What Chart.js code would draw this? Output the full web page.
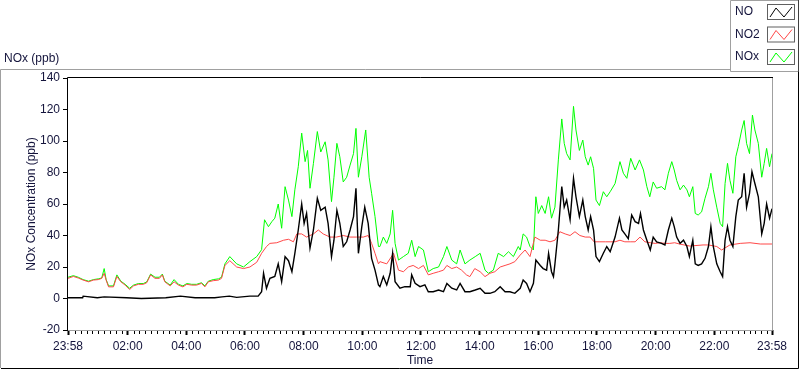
<!DOCTYPE html>
<html>
<head>
<meta charset="utf-8">
<script src="https://cdn.jsdelivr.net/npm/chart.js@4.4.1/dist/chart.umd.min.js"></script>
<style>
  html, body { margin: 0; padding: 0; background: #fff; }
  #chart { display: block; }
</style>
</head>
<body>
<canvas id="chart" width="800" height="369"></canvas>
<script>
// time axis is minutes after 23:58 of the previous day (0 .. 1440)
const xTickValues = [0, 122, 242, 362, 482, 602, 722, 842, 962, 1082, 1202, 1322, 1440];
const xTickLabels = ['23:58', '02:00', '04:00', '06:00', '08:00', '10:00', '12:00', '14:00', '16:00', '18:00', '20:00', '22:00', '23:58'];
const yTickValues = [-20, 0, 20, 40, 60, 80, 100, 120, 140];

const seriesNames = ['NO', 'NO2', 'NOx'];
const seriesColors = ['#000000', '#ff4848', '#00ff00'];

const noTimes = [0, 30, 31, 60, 74, 120, 150, 200, 230, 260, 300, 315, 330, 345, 372, 389, 396, 400, 406, 413, 423, 430, 437, 444, 451, 458, 464, 471, 478, 483, 488, 495, 502, 510, 517, 526, 532, 539, 544, 550, 556, 563, 570, 577, 584, 589, 594, 601, 607, 614, 621, 628, 635,
  638, 645, 652, 659, 664, 669, 679, 689, 700, 703, 710, 720, 730, 737, 747, 758, 768, 775, 785, 795, 802, 812, 822, 833, 843, 853, 863, 873, 884, 894, 904, 914, 925, 931, 938, 945, 952, 957,
  966, 972, 979, 983, 989, 993, 996, 1003, 1010, 1015, 1020, 1027, 1034, 1039, 1046, 1053, 1058, 1064, 1069, 1075, 1080, 1087, 1095, 1102, 1109, 1119, 1128, 1133, 1139, 1146, 1153, 1160, 1167, 1171, 1177, 1184, 1191,
  1197, 1204, 1214, 1221, 1228, 1235, 1240, 1245, 1252, 1259, 1266, 1271, 1278, 1283, 1289, 1296, 1303, 1310, 1315, 1320, 1327, 1334, 1339, 1344, 1349, 1354, 1360, 1366, 1371, 1378, 1383, 1388, 1394, 1399, 1405, 1412, 1419, 1424, 1429, 1435, 1440];
const noValues = [0.5, 0.5, 1.5, 0.5, 1, 0.5, 0, 0.5, 1.5, 0.5, 0.5, 1, 1.5, 0.7, 1.5, 1.5, 4.3, 16, 6.5, 12.8, 14, 22, 10.7, 26.6, 24, 17, 28.7, 43.5, 60, 47.7, 54, 32, 43.5, 63.6, 56, 58, 47.7, 26.6, 37, 56, 47.7, 33, 36, 43.5, 52, 70, 28.7, 45.6, 58, 47.7, 25.5, 18, 8.6,
  7.5, 14, 8.6, 16, 28.7, 10.7, 6.5, 7.5, 7.5, 15, 9.6, 7.5, 8.6, 4.3, 4.3, 5.4, 4.3, 9.6, 6.5, 5.4, 9.6, 4.3, 4.3, 5.4, 6.5, 3.3, 3.3, 4.3, 7.5, 4.3, 4.3, 3.3, 6.5, 11.7, 9.6, 4.3, 9.6, 24.4,
  21, 19, 18, 28.7, 17, 13.9, 22, 43.5, 71, 58, 62.5, 50, 76.3, 64.6, 52, 62.5, 52, 43.5, 52, 43.5, 26.6, 23.4, 28.7, 33, 29.7, 39, 51, 43.5, 41, 38, 53, 48.8, 47.7, 54, 43.5, 37, 30.8,
  39, 36, 35, 34, 43.5, 51, 45.6, 39, 35, 37, 33, 26.6, 37, 22, 21, 22, 25.5, 33, 45.6, 33, 22, 17, 13.9, 37, 45.6, 37, 33, 52, 62.5, 64.6, 79.5, 58, 66.8, 80.5, 73, 64.6, 41, 47.7, 60, 51, 57];

const no2Times = [0, 11, 21, 31, 42, 52, 62, 69, 74, 78, 83, 93, 100, 108, 117, 126, 134, 144, 154, 161, 169, 178, 187, 193, 198, 209, 217, 226, 235, 243, 253, 263, 273, 280, 287, 297, 308, 314, 321,
  331, 345, 359, 372, 386, 396, 406, 413, 427, 441, 451, 461, 468, 478, 488, 502, 512, 522, 536, 549, 563, 577, 590, 604, 614, 621, 628, 635,
  638, 652, 666, 676, 686, 696, 706, 717, 727, 737, 747, 758, 768, 775, 785, 795, 805, 815, 822, 832, 843, 853, 863, 873, 884, 894, 904, 914,
  925, 935, 945, 955, 966, 976, 986, 996, 1006, 1017, 1027, 1037, 1047, 1058, 1068, 1076, 1088, 1099, 1109, 1119, 1129, 1139, 1150, 1160, 1170, 1180, 1191, 1201, 1211, 1221,
  1231, 1241, 1252, 1272, 1299, 1310, 1327, 1337, 1354, 1375, 1395, 1416, 1440];
const no2Values = [12.8, 14, 13, 11.7, 10.6, 11.7, 12, 12.8, 16, 11.7, 7.4, 7.4, 14, 10.6, 8.5, 5.7, 8, 9, 9, 10, 15, 12.8, 12.8, 15, 10.6, 8, 10.6, 8.5, 7.4, 9, 8.5, 8.5, 9.6, 7.4, 10.6, 11.3, 11.7, 12.8, 21,
  24, 20, 19, 20, 23, 28.7, 33, 35, 35.4, 37, 37.6, 36, 41, 41, 39, 41, 43.5, 41, 39, 39, 40, 39, 39, 39, 40, 35, 28.7, 22,
  23.4, 22, 28.7, 18, 17, 20, 21, 19, 21, 15, 16, 17, 18, 21, 19, 20, 18, 15, 13.9, 19, 17, 13.9, 16, 17, 20, 21, 22, 23.4,
  27.6, 30.8, 26.6, 39, 37, 37, 36, 37, 42.4, 41, 40, 42.4, 40, 39, 39, 36, 36, 36, 36, 36, 37, 36, 36, 36, 39, 36, 35.4, 35, 35.4, 35,
  35, 35.4, 34.5, 33.3, 34, 34, 33, 30.8, 34, 35, 35.4, 34.6, 34.6];

const noxTimes = [0, 11, 21, 31, 42, 52, 62, 69, 74, 78, 83, 93, 100, 108, 117, 126, 134, 144, 154, 161, 169, 178, 187, 193, 198, 209, 217, 226, 235, 243, 253, 263, 273, 280, 287, 297, 308, 314, 321,
  331, 345, 359, 372, 386, 396, 402, 410, 417, 423, 430, 437, 444, 451, 458, 464, 471, 478, 485, 490, 495, 502, 510, 517, 526, 532, 539, 544, 550, 556, 563, 570, 577, 584, 589, 594, 601, 609, 616, 621, 628, 635,
  638, 645, 652, 659, 664, 669, 676, 686, 696, 703, 710, 717, 727, 737, 747, 758, 768, 775, 785, 795, 802, 812, 822, 833, 843, 853, 860, 870, 880, 891, 901, 911, 921,
  925, 931, 938, 945, 952, 957, 962, 969, 976, 983, 989, 996, 1003, 1010, 1015, 1020, 1027, 1034, 1039, 1046, 1053, 1058, 1064, 1069, 1075, 1080, 1087, 1095, 1102, 1109, 1119, 1129, 1136, 1143, 1151, 1160, 1169, 1177, 1184,
  1190, 1197, 1204, 1214, 1221, 1228, 1235, 1240, 1245, 1252, 1259, 1266, 1271, 1278, 1283, 1289, 1296, 1303, 1310, 1315, 1320, 1327, 1334, 1339, 1344, 1349, 1354, 1360, 1366, 1371, 1378, 1383, 1388, 1394, 1400, 1405, 1412, 1419, 1424, 1429, 1435, 1440];
const noxValues = [13.5, 14.5, 13.5, 12, 11, 12, 12.5, 13, 19, 12, 8, 8, 15, 11, 9, 6.5, 8.5, 9.5, 9.5, 10.5, 15.5, 13.5, 13.5, 15.5, 11, 8.5, 12, 9, 8, 9.5, 9, 9, 10, 8, 11, 12, 12.5, 13.5, 22,
  26.6, 22, 20, 23.4, 26.6, 31, 50, 45.6, 48.8, 51, 60, 44.6, 71, 62.5, 52, 69, 83.7, 105, 86.9, 94, 70, 85.8, 106, 93, 99.5, 88, 61.5, 77, 98.5, 90, 74, 77, 84.7, 92, 108, 77, 90, 107, 77, 66.8, 52, 33,
  33, 39, 35, 41, 56, 35, 24.4, 26.6, 28.7, 37, 26.6, 33, 30.8, 17, 19, 20, 26.6, 33, 24.4, 22, 30.8, 22, 24.4, 26.6, 28.7, 18, 16, 18, 28.7, 26.6, 29.7, 26.6, 33,
  30.8, 41, 39, 33, 30.8, 64.6, 54, 59, 54, 64.6, 51, 58, 88, 114, 98.5, 92, 88, 122, 107, 94, 100.6, 90, 84.7, 90, 82.6, 62.5, 59, 67.8, 64.6, 67.8, 73, 86.9, 79.5, 76.3, 89, 81.6, 88, 81.6, 71,
  64.6, 74, 70, 71, 69, 79.5, 86.9, 81.6, 75, 69, 72, 69, 64.6, 71, 54, 53, 55, 63.6, 71, 79.5, 69, 58, 47.7, 45.6, 73, 85.8, 75, 66.8, 90, 96.4, 107, 113, 98.5, 92, 116.5, 107, 98.5, 77, 85.8, 95.3, 83.7, 92];

const textColor = '#14143c';
const fontFamily = '"Liberation Sans", Arial, sans-serif';

function toPoints(times, values) {
    return times.map((t, i) => ({ x: t, y: values[i] }));
}

// frame, minor ticks, caption and legend box (LabVIEW style)
const decorPlugin = {
    id: 'decor',
    beforeDraw(chart) {
        const ctx = chart.ctx;
        ctx.save();
        ctx.fillStyle = '#ffffff';
        ctx.fillRect(0, 0, chart.width, chart.height);
        ctx.restore();
    },
    afterDraw(chart) {
        const ctx = chart.ctx;
        const area = chart.chartArea;
        const xScale = chart.scales.x;
        ctx.save();

        // plot frame: dark top/left, grey right/bottom
        ctx.lineWidth = 1;
        ctx.strokeStyle = '#a0a0a0';
        ctx.beginPath();
        ctx.moveTo(area.right + 0.5, area.top);
        ctx.lineTo(area.right + 0.5, area.bottom + 0.5);
        ctx.lineTo(area.left, area.bottom + 0.5);
        ctx.stroke();
        ctx.strokeStyle = '#000000';
        ctx.beginPath();
        ctx.moveTo(area.left - 0.5, area.bottom);
        ctx.lineTo(area.left - 0.5, area.top - 0.5);
        ctx.lineTo(area.right + 1, area.top - 0.5);
        ctx.stroke();

        // minor ticks every 12 minutes
        ctx.strokeStyle = '#000000';
        ctx.beginPath();
        for (let m = 12; m < 1440; m += 12) {
            if (m % 120 === 0) continue;
            const t = m + 2;
            if (t >= 1440) continue;
            const px = Math.round(xScale.getPixelForValue(t)) + 0.5;
            ctx.moveTo(px, area.bottom + 1);
            ctx.lineTo(px, area.bottom + 4);
        }
        ctx.stroke();

        // outer frame
        ctx.strokeStyle = '#a0a0a0';
        ctx.beginPath();
        ctx.moveTo(0.5, 368);
        ctx.lineTo(0.5, 69.5);
        ctx.lineTo(731, 69.5);
        ctx.stroke();
        ctx.strokeStyle = '#000000';
        ctx.beginPath();
        ctx.moveTo(1, 368.5);
        ctx.lineTo(798.5, 368.5);
        ctx.lineTo(798.5, 72);
        ctx.stroke();

        // legend box
        ctx.strokeStyle = '#a0a0a0';
        ctx.beginPath();
        ctx.moveTo(730.5, 71.5);
        ctx.lineTo(730.5, 0.5);
        ctx.lineTo(798.5, 0.5);
        ctx.moveTo(730.5, 71.5);
        ctx.lineTo(798, 71.5);
        ctx.stroke();
        ctx.strokeStyle = '#404040';
        ctx.beginPath();
        ctx.moveTo(798.5, 0);
        ctx.lineTo(798.5, 72);
        ctx.stroke();

        ctx.font = '12px ' + fontFamily;
        ctx.fillStyle = textColor;
        ctx.textBaseline = 'middle';
        ctx.textAlign = 'left';
        ctx.fillText('NOx (ppb)', 4, 59);

        seriesNames.forEach((name, i) => {
            const y0 = 4 + i * 22.5;
            ctx.fillStyle = textColor;
            ctx.fillText(name, 735, y0 + 8);
            ctx.strokeStyle = '#606060';
            ctx.lineWidth = 1;
            ctx.strokeRect(767.5, y0 + 0.5, 27, 15);
            ctx.strokeStyle = seriesColors[i];
            ctx.beginPath();
            ctx.moveTo(770, y0 + 13);
            ctx.lineTo(776, y0 + 4);
            ctx.lineTo(784, y0 + 13);
            ctx.lineTo(792, y0 + 3);
            ctx.stroke();
        });
        ctx.restore();
    }
};

new Chart(document.getElementById('chart'), {
    type: 'line',
    data: {
        datasets: [
            { label: 'NO', data: toPoints(noTimes, noValues), borderColor: seriesColors[0], borderWidth: 1.4 },
            { label: 'NO2', data: toPoints(no2Times, no2Values), borderColor: seriesColors[1] },
            { label: 'NOx', data: toPoints(noxTimes, noxValues), borderColor: seriesColors[2] }
        ]
    },
    options: {
        responsive: false,
        animation: false,
        devicePixelRatio: 1,
        elements: {
            line: { borderWidth: 1, tension: 0 },
            point: { radius: 0 }
        },
        layout: { padding: { left: 0, right: 28, top: 78, bottom: 0 } },
        plugins: {
            legend: { display: false },
            tooltip: { enabled: false }
        },
        scales: {
            x: {
                type: 'linear',
                min: 0,
                max: 1440,
                afterBuildTicks(scale) {
                    scale.ticks = xTickValues.map(v => ({ value: v }));
                },
                afterFit(scale) { scale.height = 39; },
                ticks: {
                    autoSkip: false,
                    maxRotation: 0,
                    padding: 4,
                    color: textColor,
                    font: { family: fontFamily, size: 12 },
                    callback(value) {
                        const i = xTickValues.indexOf(value);
                        return i >= 0 ? xTickLabels[i] : '';
                    }
                },
                grid: { drawOnChartArea: false, tickLength: 5, tickWidth: 2, tickColor: '#000' },
                border: { display: false },
                title: {
                    display: true,
                    text: 'Time',
                    color: textColor,
                    font: { family: fontFamily, size: 12 },
                    padding: { top: 0, bottom: 1 }
                }
            },
            y: {
                min: -20,
                max: 140,
                afterBuildTicks(scale) {
                    scale.ticks = yTickValues.map(v => ({ value: v }));
                },
                afterFit(scale) { scale.width = 68; },
                ticks: {
                    padding: 3,
                    color: textColor,
                    font: { family: fontFamily, size: 12 }
                },
                grid: { drawOnChartArea: false, tickLength: 5, tickWidth: 1, tickColor: '#000' },
                border: { display: false },
                title: {
                    display: true,
                    text: 'NOx Concentration (ppb)',
                    color: textColor,
                    font: { family: fontFamily, size: 12 },
                    padding: { top: 24, bottom: 0 }
                }
            }
        }
    },
    plugins: [decorPlugin]
});
</script>
</body>
</html>
